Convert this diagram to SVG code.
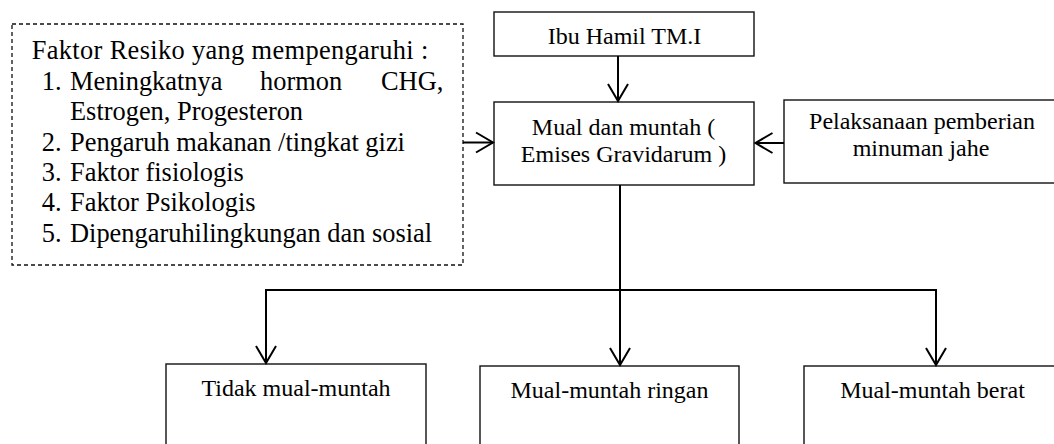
<svg xmlns="http://www.w3.org/2000/svg" width="1054" height="444" viewBox="0 0 1054 444">
<defs>
<style>
.box{fill:#fff;stroke:#111;stroke-width:1.4}
.dash{fill:#fff;stroke:#111;stroke-width:1.3;stroke-dasharray:4 3}
text{font-family:'Liberation Serif','Times New Roman',serif;fill:#000}
.t{font-size:24px}
.tl{font-size:26.4px}
.c{text-anchor:middle}
.conn{fill:none;stroke:#000;stroke-width:2}
</style>
<marker id="ah" markerUnits="userSpaceOnUse" markerWidth="24" markerHeight="24" viewBox="-20 -12 24 24" refX="0" refY="0" orient="auto">
<path d="M-17,-10 L0,0 L-17,10" fill="none" stroke="#000" stroke-width="2"/>
</marker>
</defs>
<rect width="1054" height="444" fill="#fff"/>

<g id="faktor">
<rect class="dash" x="12" y="24" width="451" height="241"/>
<text class="tl" x="31.7" y="59.3" textLength="396.6" lengthAdjust="spacing">Faktor Resiko yang mempengaruhi :</text>
<text class="tl" x="41.7" y="89.7">1.</text>
<text class="tl" x="70" y="89.7">Meningkatnya</text>
<text class="tl" x="260" y="89.7">hormon</text>
<text class="tl" x="443.3" y="89.7" text-anchor="end">CHG,</text>
<text class="tl" x="70" y="120.1">Estrogen, Progesteron</text>
<text class="tl" x="41.7" y="150.5">2.</text>
<text class="tl" x="70" y="150.5">Pengaruh makanan /tingkat gizi</text>
<text class="tl" x="41.7" y="180.9">3.</text>
<text class="tl" x="70" y="180.9">Faktor fisiologis</text>
<text class="tl" x="41.7" y="211.3">4.</text>
<text class="tl" x="70" y="211.3">Faktor Psikologis</text>
<text class="tl" x="41.7" y="241.7">5.</text>
<text class="tl" x="70" y="241.7">Dipengaruhilingkungan dan sosial</text>
</g>

<g id="ibu">
<rect class="box" x="494" y="12" width="260" height="44"/>
<text class="t c" x="624.5" y="44.3">Ibu Hamil TM.I</text>
</g>

<g id="mual">
<rect class="box" x="494" y="102" width="260" height="83"/>
<text class="t c" x="623.5" y="135">Mual dan muntah (</text>
<text class="t c" x="623.5" y="162.3">Emises Gravidarum )</text>
</g>

<g id="jahe">
<rect class="box" x="784" y="100" width="275" height="83"/>
<text class="t c" x="922" y="129.3">Pelaksanaan pemberian</text>
<text class="t c" x="921" y="156">minuman jahe</text>
</g>

<g id="tidak">
<rect class="box" x="166" y="364" width="260" height="100"/>
<text class="t c" x="296" y="396">Tidak mual-muntah</text>
</g>

<g id="ringan">
<rect class="box" x="480" y="366" width="259" height="100"/>
<text class="t c" x="609.5" y="398">Mual-muntah ringan</text>
</g>

<g id="berat">
<rect class="box" x="804" y="366" width="260" height="100"/>
<text class="t c" x="932.5" y="398">Mual-muntah berat</text>
</g>

<g id="connectors">
<line class="conn" x1="618" y1="56" x2="618" y2="101" marker-end="url(#ah)"/>
<line class="conn" x1="463" y1="142.5" x2="493" y2="142.5" marker-end="url(#ah)"/>
<line class="conn" x1="784" y1="143" x2="755.5" y2="143" marker-end="url(#ah)"/>
<line class="conn" x1="620" y1="185" x2="620" y2="365" marker-end="url(#ah)"/>
<polyline class="conn" points="266,290 936,290"/>
<line class="conn" x1="266" y1="289" x2="266" y2="363" marker-end="url(#ah)"/>
<line class="conn" x1="936" y1="289" x2="936" y2="365" marker-end="url(#ah)"/>
</g>
</svg>
